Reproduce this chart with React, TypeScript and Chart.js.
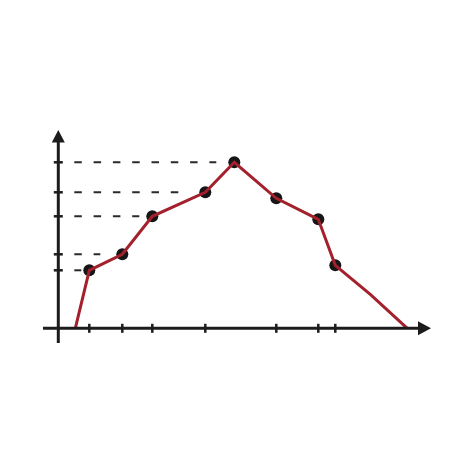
import React, { useEffect, useRef } from "react";
import { Chart, registerables } from "chart.js";

Chart.register(...registerables);

// Line path (x, y) in chart units
const lineX = [17, 31, 64, 94, 147, 176, 218, 260, 277, 312, 349];
const lineY = [0, 58, 74, 112, 136, 166, 130, 109, 63, 34, 0];
// Points that carry a dot (indices into the line path)
const dotIndices = [1, 2, 3, 4, 5, 6, 7, 8];
// Tick positions
const xTicks = [31, 64, 94, 147, 218, 260, 277];
const yTicks = [58, 74, 112, 136, 166];
// Dashed guide lines: level and end x (start at guideStart)
const guideY = [58, 74, 112, 136, 166];
const guideEnd = [23, 42, 81, 120, 158];
const guideStart = 16;
// Axis range
const xMin = -15.3;
const xMax = 372.7;
const yMin = -14.7;
const yMax = 198.3;

const RED = "#a3202c";
const INK = "#1c1c1c";

const axesPlugin = {
  id: "customAxes",
  beforeDatasetsDraw(chart: any) {
    const { ctx, scales } = chart;
    const xs = scales.x;
    const ys = scales.y;
    ctx.save();
    ctx.strokeStyle = "#2a2a2a";
    ctx.lineWidth = 2;
    ctx.setLineDash([7.5, 11.8]);
    guideY.forEach((v, i) => {
      const py = ys.getPixelForValue(v);
      ctx.beginPath();
      ctx.moveTo(xs.getPixelForValue(guideStart), py);
      ctx.lineTo(xs.getPixelForValue(guideEnd[i]), py);
      ctx.stroke();
    });
    ctx.restore();
  },
  afterDatasetsDraw(chart: any) {
    const { ctx, scales, chartArea } = chart;
    const xs = scales.x;
    const ys = scales.y;
    const ox = xs.getPixelForValue(0);
    const oy = ys.getPixelForValue(0);
    ctx.save();
    ctx.strokeStyle = INK;
    ctx.fillStyle = INK;
    ctx.lineWidth = 3;
    // y axis
    ctx.beginPath();
    ctx.moveTo(ox, chartArea.bottom);
    ctx.lineTo(ox, chartArea.top + 10);
    ctx.stroke();
    ctx.beginPath();
    ctx.moveTo(ox, chartArea.top);
    ctx.lineTo(ox - 6.5, chartArea.top + 12.5);
    ctx.lineTo(ox + 6.5, chartArea.top + 12.5);
    ctx.closePath();
    ctx.fill();
    // x axis
    ctx.beginPath();
    ctx.moveTo(chartArea.left, oy);
    ctx.lineTo(chartArea.right - 10, oy);
    ctx.stroke();
    ctx.beginPath();
    ctx.moveTo(chartArea.right, oy);
    ctx.lineTo(chartArea.right - 13, oy - 7);
    ctx.lineTo(chartArea.right - 13, oy + 7);
    ctx.closePath();
    ctx.fill();
    // ticks
    ctx.lineWidth = 2.5;
    yTicks.forEach((v) => {
      const py = ys.getPixelForValue(v);
      ctx.beginPath();
      ctx.moveTo(ox - 4.5, py);
      ctx.lineTo(ox + 4.5, py);
      ctx.stroke();
    });
    xTicks.forEach((v) => {
      const px = xs.getPixelForValue(v);
      ctx.beginPath();
      ctx.moveTo(px, oy - 4.5);
      ctx.lineTo(px, oy + 4.5);
      ctx.stroke();
    });
    ctx.restore();
  },
};

export default function App() {
  const ref = useRef<HTMLCanvasElement | null>(null);
  useEffect(() => {
    if (!ref.current) return;
    const lineData = lineX.map((x, i) => ({ x, y: lineY[i] }));
    const dotData = dotIndices.map((i) => ({ x: lineX[i], y: lineY[i] }));
    const chart = new Chart(ref.current, {
      type: "scatter",
      data: {
        datasets: [
          {
            data: lineData,
            showLine: true,
            borderColor: RED,
            borderWidth: 3,
            pointRadius: 0,
            fill: false,
            order: 0,
            clip: false,
          } as any,
          {
            data: dotData,
            showLine: false,
            pointRadius: 6,
            pointBackgroundColor: "#161616",
            pointBorderWidth: 0,
            order: 1,
            clip: false,
          } as any,
        ],
      },
      options: {
        responsive: false,
        animation: false,
        events: [],
        layout: { padding: { left: 43, right: 43, top: 130, bottom: 131 } },
        plugins: { legend: { display: false }, tooltip: { enabled: false } },
        scales: {
          x: { type: "linear", min: xMin, max: xMax, display: false },
          y: { type: "linear", min: yMin, max: yMax, display: false },
        },
      },
      plugins: [axesPlugin],
    });
    return () => chart.destroy();
  }, []);
  return (
    <div style={{ position: "absolute", left: 0, top: 0, width: 474, height: 474, background: "#fff" }}>
      <canvas ref={ref} width={474} height={474} />
    </div>
  );
}
